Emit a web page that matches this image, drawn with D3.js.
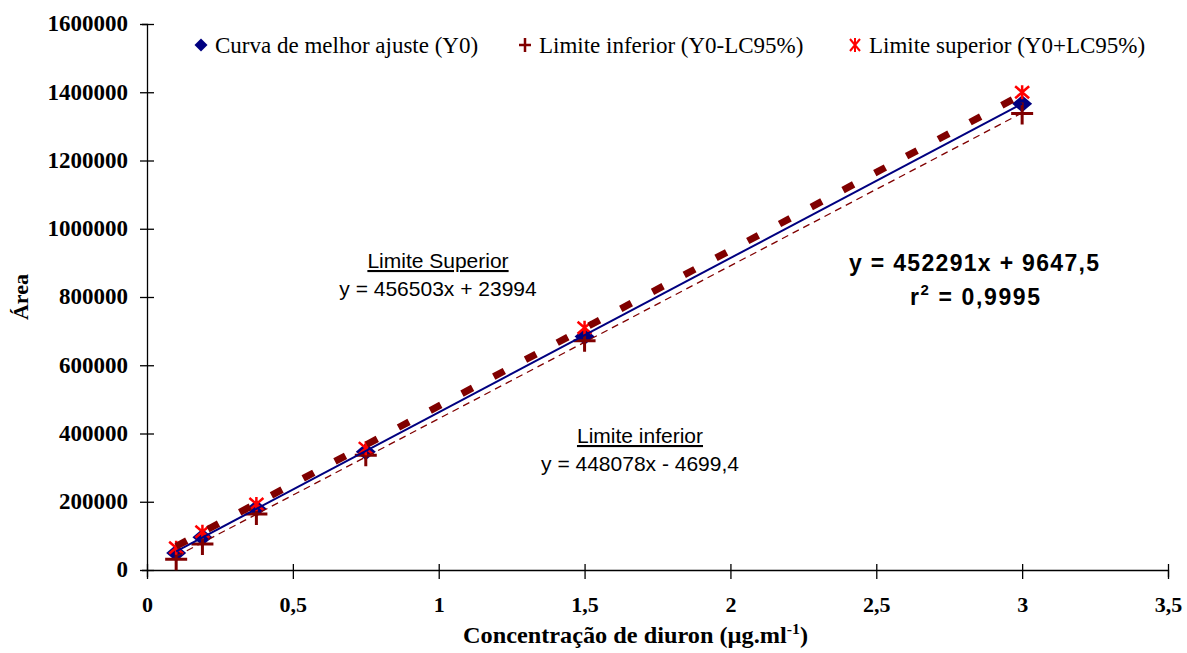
<!DOCTYPE html>
<html><head><meta charset="utf-8">
<script src="https://cdn.jsdelivr.net/npm/d3@7"></script>
<style>
body{margin:0;background:#fff;}
svg{display:block;}
</style></head>
<body>
<svg id="chart" width="1187" height="653"></svg>
<script>
const conc = [0.1, 0.19, 0.375, 0.75, 1.5, 3.0];
const y0 = [50000, 95800, 180500, 346500, 684000, 1366000];
const yLower = [31300, 76200, 164100, 336000, 671900, 1338000];
const yUpper = [65400, 112300, 193400, 357000, 710000, 1400000];
const fitY0 = {slope: 452291, intercept: 9647.5};
const fitLower = {slope: 448078, intercept: -4699.4};
const fitUpper = {slope: 456503, intercept: 23994};
const xTicks = [0, 0.5, 1, 1.5, 2, 2.5, 3, 3.5];
const xTickLabels = ["0", "0,5", "1", "1,5", "2", "2,5", "3", "3,5"];
const yTicks = [0, 200000, 400000, 600000, 800000, 1000000, 1200000, 1400000, 1600000];
const legendLabels = ["Curva de melhor ajuste (Y0)", "Limite inferior (Y0-LC95%)", "Limite superior (Y0+LC95%)"];

const svg = d3.select("#chart");
const x = d3.scaleLinear().domain([0, 3.5]).range([147, 1168]);
const y = d3.scaleLinear().domain([0, 1600000]).range([570, 24]);

const serif = "'Liberation Serif','Times New Roman',serif";
const sans = "'Liberation Sans',Arial,sans-serif";

// axes
const yAxis = svg.append("g").attr("transform", `translate(${x(0)},0)`)
  .call(d3.axisLeft(y).tickValues(yTicks).tickFormat(d3.format("d")).tickSize(5).tickPadding(14));
const xAxis = svg.append("g").attr("transform", `translate(0,${y(0)})`)
  .call(d3.axisBottom(x).tickValues(xTicks).tickFormat((d, i) => xTickLabels[i]).tickSize(7).tickPadding(19));
[yAxis, xAxis].forEach(g => {
  g.select(".domain").attr("stroke", "#000").attr("stroke-width", 1.3);
  g.selectAll(".tick line").attr("stroke", "#000").attr("stroke-width", 1.3);
  g.selectAll(".tick text").attr("font-family", serif).attr("font-weight", "bold").attr("font-size", 22).attr("fill", "#000");
});
yAxis.selectAll(".tick text").attr("font-size", 23).attr("dy", "0.3em");
yAxis.selectAll(".tick line").attr("x1", 7).attr("x2", -7);
xAxis.selectAll(".tick line").attr("y1", -6).attr("y2", 9);

// axis titles
svg.append("text").attr("transform", `translate(28,${(y(0)+y(1600000))/2}) rotate(-90)`)
  .attr("text-anchor", "middle").attr("font-family", serif).attr("font-weight", "bold").attr("font-size", 22).text("Área");
const xt = svg.append("text").attr("x", 463).attr("y", 643)
  .attr("font-family", serif).attr("font-weight", "bold").attr("font-size", 23)
  .attr("textLength", 345).attr("lengthAdjust", "spacingAndGlyphs");
xt.append("tspan").text("Concentração de diuron (µg.ml");
xt.append("tspan").attr("dy", -9).attr("font-size", 15).text("-1");
xt.append("tspan").attr("dy", 9).text(")");

// markers
const diamondPath = "M0,-8.5L10,0L0,8.5L-10,0Z";
svg.append("g").selectAll("path").data(conc).join("path")
  .attr("d", diamondPath).attr("transform", (d, i) => `translate(${x(d)},${y(y0[i])})`)
  .attr("fill", "#000080");

const plusPath = "M-11,0H11M0,-11V11";
svg.append("g").selectAll("path").data(conc).join("path")
  .attr("d", plusPath).attr("transform", (d, i) => `translate(${x(d)},${y(yLower[i])})`)
  .attr("stroke", "#800000").attr("stroke-width", 3).attr("fill", "none");

const starPath = "M-7,-6L7,6M7,-6L-7,6M0,-7V7";
svg.append("g").selectAll("path").data(conc).join("path")
  .attr("d", starPath).attr("transform", (d, i) => `translate(${x(d)},${y(yUpper[i])})`)
  .attr("stroke", "#ff0000").attr("stroke-width", 2.5).attr("fill", "none");

// trendlines
function trend(fit) {
  const xs = [conc[0], conc[conc.length - 1]];
  return d3.line().x(d => x(d)).y(d => y(fit.slope * d + fit.intercept))(xs);
}
svg.append("path").attr("d", trend(fitLower)).attr("stroke", "#800000").attr("stroke-width", 1.3)
  .attr("stroke-dasharray", "7,5").attr("fill", "none");
svg.append("path").attr("d", trend(fitY0)).attr("stroke", "#000080").attr("stroke-width", 2).attr("fill", "none");
svg.append("path").attr("d", trend(fitUpper)).attr("stroke", "#800000").attr("stroke-width", 7)
  .attr("stroke-dasharray", "12,24").attr("fill", "none");

// legend
const leg = svg.append("g");
const legX = [201, 525, 855];
const legY = 45;
leg.append("path").attr("d", "M0,-6.5L6.5,0L0,6.5L-6.5,0Z").attr("transform", `translate(${legX[0]},${legY})`).attr("fill", "#000080");
leg.append("path").attr("d", "M-6,0H6M0,-7V7").attr("transform", `translate(${legX[1]},${legY})`).attr("stroke", "#800000").attr("stroke-width", 2.5);
leg.append("path").attr("d", "M-5,-6L5,6M5,-6L-5,6M0,-7V7").attr("transform", `translate(${legX[2]},${legY})`).attr("stroke", "#ff0000").attr("stroke-width", 2);
legendLabels.forEach((t, i) => {
  leg.append("text").attr("x", legX[i] + 14).attr("y", 53).attr("font-family", serif).attr("font-size", 23).text(t);
});

// annotations
function label(cx, cy, title, eq) {
  svg.append("text").attr("x", cx).attr("y", cy).attr("text-anchor", "middle").attr("font-family", sans)
    .attr("font-size", 21).attr("text-decoration", "underline").text(title);
  svg.append("text").attr("x", cx).attr("y", cy + 28).attr("text-anchor", "middle").attr("font-family", sans)
    .attr("font-size", 21).text(eq);
}
label(438, 268, "Limite Superior", "y = 456503x + 23994");
label(640, 443, "Limite inferior", "y = 448078x - 4699,4");

svg.append("text").attr("x", 849).attr("y", 271).attr("font-family", sans)
  .attr("font-weight", "bold").attr("font-size", 23).attr("textLength", 250).attr("lengthAdjust", "spacing")
  .text("y = 452291x + 9647,5");
const r2 = svg.append("text").attr("x", 910).attr("y", 305).attr("font-family", sans)
  .attr("font-weight", "bold").attr("font-size", 23).attr("textLength", 130).attr("lengthAdjust", "spacing");
r2.append("tspan").text("r");
r2.append("tspan").attr("dy", -10).attr("font-size", 15).text("2");
r2.append("tspan").attr("dy", 10).text(" = 0,9995");
</script>
</body></html>
